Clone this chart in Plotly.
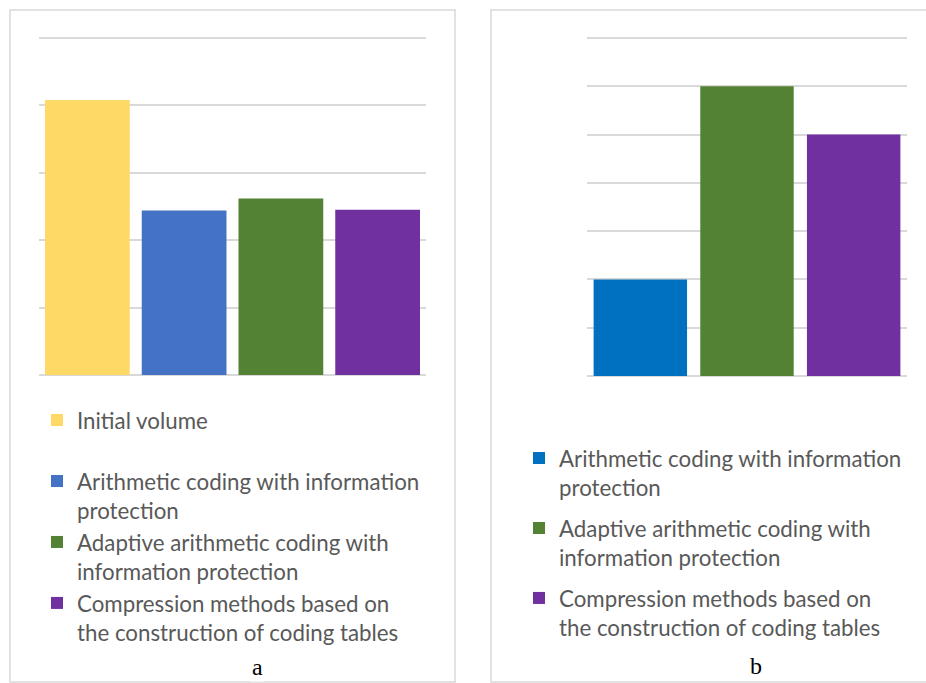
import plotly.graph_objects as go

W, H = 926, 683

# ---------------- data ----------------
panel_a_category = ["a"]
panel_a_names = [
    "Initial volume",
    "Arithmetic coding with information<br>protection",
    "Adaptive arithmetic coding with<br>information protection",
    "Compression methods based on<br>the construction of coding tables",
]
panel_a_values = [204, 122, 131, 122.5]
panel_a_colors = ["#FFD966", "#4472C4", "#548235", "#7030A0"]

panel_b_category = ["b"]
panel_b_names = [
    "Arithmetic coding with information<br>protection",
    "Adaptive arithmetic coding with<br>information protection",
    "Compression methods based on<br>the construction of coding tables",
]
panel_b_values = [2, 6, 5]
panel_b_colors = ["#0070C0", "#548235", "#7030A0"]

# ---------------- helpers ----------------
def px(x):
    return x / W

def py(y):
    return 1 - y / H

FONT = "Lato, Carlito, 'Open Sans', sans-serif"
TEXT = "#595959"
GRID = "#D9D9D9"

fig = go.Figure()

for i, (n, v, c) in enumerate(zip(panel_a_names, panel_a_values, panel_a_colors)):
    fig.add_trace(go.Bar(
        x=panel_a_category, y=[v], name=n, marker=dict(color=c, line_width=0),
        xaxis="x", yaxis="y", legend="legend",
        legendgroup="a0" if i == 0 else "a1",
    ))

for i, (n, v, c) in enumerate(zip(panel_b_names, panel_b_values, panel_b_colors)):
    fig.add_trace(go.Bar(
        x=panel_b_category, y=[v], name=n, marker=dict(color=c, line_width=0),
        xaxis="x2", yaxis="y2", legend="legend2",
        legendgroup="b%d" % i,
    ))

axis_common = dict(showticklabels=False, ticks="", showline=False, fixedrange=True)

# left: 0..250 spans y=375..38 (1.348 px/unit); extend range to 255 so the top gridline shows
# right: 0..7 spans y=376..38 (48.29 px/unit); extend range to 7.15
fig.update_layout(
    width=W, height=H,
    margin=dict(l=0, r=0, t=0, b=0),
    paper_bgcolor="white", plot_bgcolor="white",
    barmode="group", bargap=0.0, bargroupgap=0.124,
    showlegend=True,
    xaxis=dict(domain=[px(39), px(426)], showgrid=False, zeroline=False, **axis_common),
    yaxis=dict(domain=[py(375), py(38 - 5 * 1.348)], range=[0, 255], dtick=50,
               showgrid=True, gridcolor=GRID, gridwidth=1.5,
               zeroline=True, zerolinecolor=GRID, zerolinewidth=1.5, **axis_common),
    xaxis2=dict(domain=[px(587), px(907)], showgrid=False, zeroline=False,
                anchor="y2", **axis_common),
    yaxis2=dict(domain=[py(376), py(38 - 0.15 * 48.29)], range=[0, 7.15], dtick=1, anchor="x2",
                showgrid=True, gridcolor=GRID, gridwidth=1.5,
                zeroline=True, zerolinecolor=GRID, zerolinewidth=1.5, **axis_common),
    legend=dict(x=px(37), y=py(399), xanchor="left", yanchor="top",
                font=dict(family=FONT, size=22.3, color=TEXT),
                valign="top", tracegroupgap=29, traceorder="grouped",
                bgcolor="rgba(0,0,0,0)"),
    legend2=dict(x=px(519), y=py(437), xanchor="left", yanchor="top",
                 font=dict(family=FONT, size=22.3, color=TEXT),
                 valign="top", tracegroupgap=9, traceorder="grouped",
                 bgcolor="rgba(0,0,0,0)"),
    shapes=[
        dict(type="rect", xref="paper", yref="paper",
             x0=px(10), x1=px(455), y0=py(682), y1=py(10),
             line=dict(color="#D9D9D9", width=1.5), layer="below"),
        dict(type="rect", xref="paper", yref="paper",
             x0=px(491), x1=px(940), y0=py(682), y1=py(10),
             line=dict(color="#D9D9D9", width=1.5), layer="below"),
    ],
    annotations=[
        dict(text="a", x=px(257), y=py(667), xref="paper", yref="paper",
             xanchor="center", yanchor="middle",
             showarrow=False, font=dict(family="Liberation Serif, Times New Roman, serif",
                                        size=24, color="black"),
             bgcolor="white"),
        dict(text="b", x=px(756), y=py(666), xref="paper", yref="paper",
             xanchor="center", yanchor="middle",
             showarrow=False, font=dict(family="Liberation Serif, Times New Roman, serif",
                                        size=24, color="black"),
             bgcolor="white"),
    ],
)

fig.write_html("out.html")
